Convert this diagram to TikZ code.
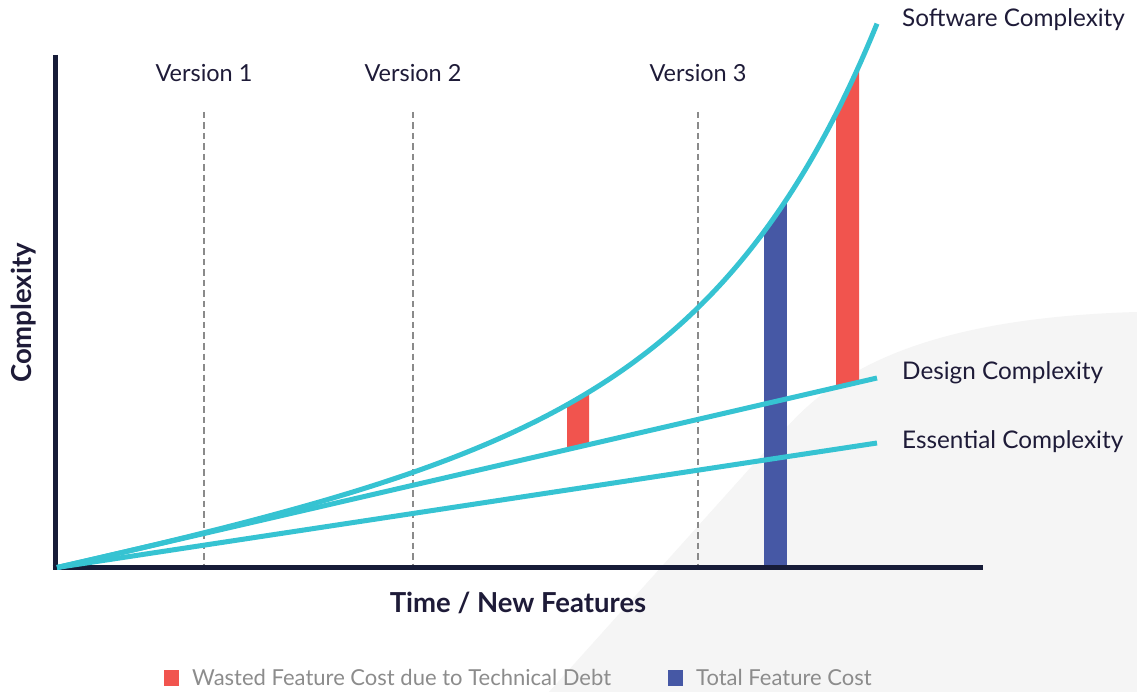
\documentclass[tikz,border=0pt]{standalone}
\usepackage{fontspec}
\setmainfont{Lato}
\definecolor{axisnavy}{HTML}{171C38}
\definecolor{labelnavy}{HTML}{1E1B38}
\definecolor{guidegray}{HTML}{8A8A8A}
\definecolor{trendcyan}{HTML}{36C3D2}
\definecolor{wastered}{HTML}{F1544E}
\definecolor{totalblue}{HTML}{4658A5}
\definecolor{shadegray}{HTML}{F5F5F5}
\definecolor{legendgray}{HTML}{8C8C8C}
% software complexity: linear part plus exponential growth (u = distance from origin)
\def\swcurve{plot[domain=0:820, samples=240, variable=\u] ({57+\u},{567.5-0.21*\u-2.74*(exp(0.006*\u)-1)})}
\begin{document}
\begin{tikzpicture}[x=1pt,y=-1pt,
  axisline/.style={line width=5pt, draw=axisnavy},
  guide/.style={line width=2.4pt, draw=guidegray, dash pattern=on 6.5pt off 4pt},
  trend/.style={line width=5pt, draw=trendcyan},
  curvelabel/.style={text=labelnavy, font=\fontsize{24.3}{28}\selectfont, inner sep=0pt, anchor=base west},
  versionlabel/.style={text=labelnavy, font=\fontsize{23.5}{27}\selectfont, inner sep=0pt, anchor=base},
  axislabel/.style={text=labelnavy, font=\bfseries\fontsize{27.5}{31}\selectfont, inner sep=0pt, anchor=base},
  legendtext/.style={text=legendgray, font=\fontsize{22}{25}\selectfont, inner sep=0pt, anchor=base west},
]
% canvas
\fill[white] (0,0) rectangle (1137,692);
\useasboundingbox (0,0) rectangle (1137,692);

% soft backdrop in the lower right
\fill[shadegray] (549,692) -- (787,427) .. controls (840,368) and (930,318) .. (1137,312) -- (1137,692) -- cycle;

% key points
\coordinate (O) at (57,567.5);
\coordinate (D) at (877,378);
\coordinate (E) at (877,443);

% release markers
\foreach \x/\n in {204/1,413/2,698/3}{
  \coordinate (g\n) at (\x,112);
  \coordinate (h\n) at (\x,565);
  \draw[guide] (g\n) -- (h\n);
  \node[versionlabel] (v\n) at (\x,82) {Version \n};
}

% cost bars, cut off along the software complexity curve
\begin{scope}
  \clip \swcurve -- (877,600) -- (57,600) -- cycle;
  \fill[wastered] (567,449.8) -- (567,0) -- (589,0) -- (589,444.7) -- cycle;
  \fill[totalblue] (764,567) rectangle (787,0);
  \fill[wastered] (836,387.5) -- (836,0) -- (859,0) -- (859,382.2) -- cycle;
\end{scope}

% axes
\draw[axisline] (55,55) -- (55,570);
\draw[axisline] (52.5,567.5) -- (983,567.5);

% complexity curves
\draw[trend] (O) -- (E);
\draw[trend] (O) -- (D);
\draw[trend] \swcurve;
\coordinate (S) at (877,22);

% curve labels
\node[curvelabel] (ls) at (902,27) {Software Complexity};
\node[curvelabel] (ld) at (902,379) {Design Complexity};
\node[curvelabel] (le) at (902,448) {Essential Complexity};

% axis titles
\node[axislabel] (xt) at (518,612) {Time / New Features};
\node[axislabel, rotate=90] (yt) at (31,313) {Complexity};

% legend
\fill[wastered] (164,670) rectangle (179,686);
\node[legendtext] (lw) at (192,685) {Wasted Feature Cost due to Technical Debt};
\fill[totalblue] (668,670) rectangle (683,686);
\node[legendtext] (lt) at (696,685) {Total Feature Cost};
\end{tikzpicture}
\end{document}
